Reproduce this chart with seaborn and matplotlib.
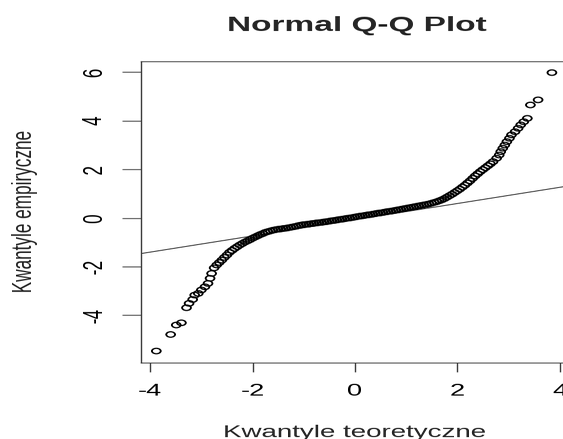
import io

import matplotlib
matplotlib.use("Agg")
import matplotlib.pyplot as plt
import pandas as pd
import seaborn as sns
from PIL import Image

# Normal Q-Q plot: theoretical quantiles (x) against sample quantiles (y)
lower_tail_x = [-3.88, -3.60, -3.49, -3.39, -3.29, -3.24, -3.17, -3.13, -3.06,
                -3.00, -2.93, -2.87, -2.83, -2.80]
lower_tail_y = [-5.47, -4.79, -4.40, -4.31, -3.69, -3.51, -3.35, -3.17, -3.10,
                -2.96, -2.83, -2.69, -2.48, -2.28]

body_x = [-2.75, -2.70, -2.65, -2.60, -2.55, -2.50, -2.45, -2.40, -2.35, -2.30,
          -2.25, -2.20, -2.15, -2.10, -2.05, -2.00, -1.95, -1.90, -1.85, -1.80,
          -1.75, -1.70, -1.65, -1.60, -1.55, -1.50, -1.45, -1.40, -1.35, -1.30,
          -1.25, -1.20, -1.15, -1.10, -1.05, -1.00, -0.95, -0.90, -0.85, -0.80,
          -0.75, -0.70, -0.65, -0.60, -0.55, -0.50, -0.45, -0.40, -0.35, -0.30,
          -0.25, -0.20, -0.15, -0.10, -0.05, 0.00, 0.05, 0.10, 0.15, 0.20,
          0.25, 0.30, 0.35, 0.40, 0.45, 0.50, 0.55, 0.60, 0.65, 0.70,
          0.75, 0.80, 0.85, 0.90, 0.95, 1.00, 1.05, 1.10, 1.15, 1.20,
          1.25, 1.30, 1.35, 1.40, 1.45, 1.50, 1.55, 1.60, 1.65, 1.70,
          1.75, 1.80, 1.85, 1.90, 1.95, 2.00, 2.05, 2.10, 2.15, 2.20,
          2.25, 2.30, 2.35, 2.40, 2.45, 2.50, 2.55, 2.60, 2.65, 2.70]
body_y = [-2.05, -1.93, -1.83, -1.73, -1.62, -1.52, -1.41, -1.33, -1.25, -1.18,
          -1.11, -1.05, -0.99, -0.94, -0.89, -0.83, -0.78, -0.73, -0.68, -0.64,
          -0.59, -0.56, -0.53, -0.50, -0.48, -0.46, -0.45, -0.43, -0.42, -0.40,
          -0.38, -0.36, -0.34, -0.31, -0.29, -0.27, -0.26, -0.25, -0.23, -0.22,
          -0.20, -0.19, -0.18, -0.16, -0.15, -0.13, -0.11, -0.10, -0.08, -0.06,
          -0.05, -0.03, -0.01, 0.00, 0.02, 0.04, 0.06, 0.08, 0.09, 0.11,
          0.13, 0.14, 0.16, 0.18, 0.20, 0.21, 0.23, 0.25, 0.27, 0.28,
          0.30, 0.32, 0.34, 0.36, 0.38, 0.40, 0.42, 0.44, 0.46, 0.48,
          0.50, 0.52, 0.54, 0.56, 0.58, 0.61, 0.64, 0.67, 0.71, 0.75,
          0.80, 0.86, 0.92, 0.98, 1.05, 1.12, 1.19, 1.27, 1.35, 1.44,
          1.53, 1.63, 1.73, 1.82, 1.91, 1.99, 2.07, 2.15, 2.23, 2.32]

upper_tail_x = [2.77, 2.82, 2.85, 2.89, 2.93, 2.97, 3.02, 3.06, 3.13, 3.19,
                3.24, 3.30, 3.37, 3.43, 3.58, 3.85]
upper_tail_y = [2.46, 2.59, 2.73, 2.87, 3.00, 3.14, 3.28, 3.42, 3.55, 3.69,
                3.83, 3.96, 4.10, 4.65, 4.86, 5.98]

# Reference line through the quartiles
line_intercept = -0.07
line_slope = 0.333

x_ticks = [-4, -2, 0, 2, 4]
x_tick_labels = ["-4", "-2", "0", "2", "4"]
y_ticks = [-4, -2, 0, 2, 4, 6]
y_tick_labels = ["-4", "-2", "0", "2", "4", "6"]

title = "Normal Q-Q Plot"
x_label = "Kwantyle teoretyczne"
y_label = "Kwantyle empiryczne"

df = pd.DataFrame({
    "teor": lower_tail_x + body_x + upper_tail_x,
    "emp": lower_tail_y + body_y + upper_tail_y,
})

sns.set_style("white")
plt.rcParams["font.family"] = ["Liberation Sans", "DejaVu Sans"]

axis_color = "#3a3a3a"

# Drawn on a tall canvas, then scaled down vertically to the final size
fig = plt.figure(figsize=(5.63, 7.08), dpi=100)
ax = fig.add_axes([0.2504, 0.1738, 0.7599, 0.6857])

sns.scatterplot(data=df, x="teor", y="emp", ax=ax, marker="o", s=40,
                linewidth=1.35, legend=False)
pts = ax.collections[-1]
pts.set_facecolor("none")
pts.set_edgecolor("black")

ax.axline((0, line_intercept), slope=line_slope, color="black", lw=0.8)

ax.set_xlim(-4.18, 4.18)
ax.set_ylim(-5.95, 6.43)

ax.set_xticks(x_ticks)
ax.set_xticklabels(x_tick_labels)
ax.set_yticks(y_ticks)
ax.set_yticklabels(y_tick_labels, rotation=90, va="center")

ax.tick_params(axis="x", length=11, width=1.0, pad=12.5, labelsize=19.5,
               color=axis_color, labelcolor="black", bottom=True)
ax.tick_params(axis="y", length=13.5, width=1.0, pad=10.5, labelsize=19.5,
               color=axis_color, labelcolor="black", left=True)

for side in ["left", "right", "top", "bottom"]:
    ax.spines[side].set_visible(True)
    ax.spines[side].set_color(axis_color)
    ax.spines[side].set_linewidth(1.0)

ax.set_xlabel("")
ax.set_ylabel("")

fig.text(0.634, 0.929, title, ha="center", va="baseline",
         fontsize=24, fontweight="bold")
fig.text(0.6306, 0.0046, x_label, ha="center", va="baseline", fontsize=20)
fig.text(0.0213, 0.518, y_label, ha="left", va="center", rotation=90,
         fontsize=20)

buf = io.BytesIO()
fig.savefig(buf, format="png", dpi=100, facecolor="white")
buf.seek(0)
img = Image.open(buf).convert("RGB")
img = img.resize((563, 439), Image.LANCZOS)
img.save("out.png")
